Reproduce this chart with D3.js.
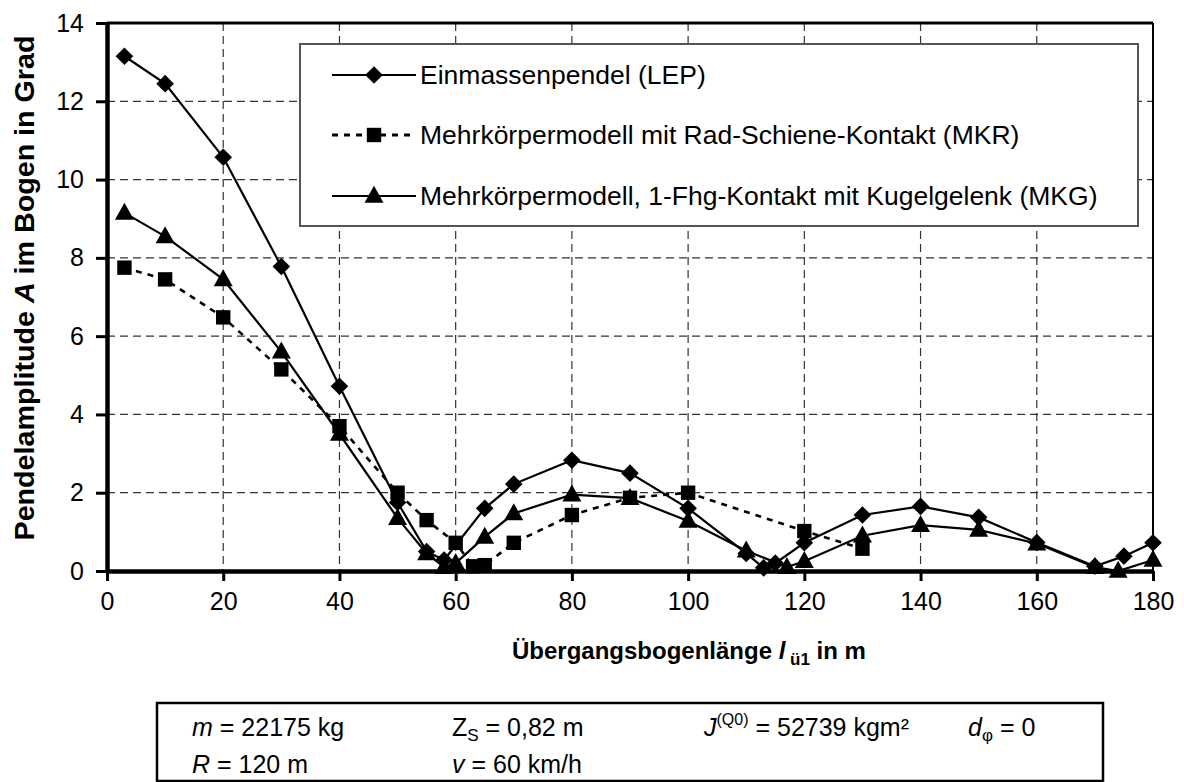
<!DOCTYPE html>
<html>
<head>
<meta charset="utf-8">
<script src="https://cdn.jsdelivr.net/npm/d3@7"></script>
<style>
  html, body { margin: 0; padding: 0; background: #fff; }
  svg { display: block; font-family: "Liberation Sans", Arial, sans-serif; }
</style>
</head>
<body>
<svg id="chart" width="1184" height="782"></svg>
<script>
// Transition curve length l_ü1 [m] and pendulum amplitude A [deg] per model
const lepLength = [3, 10, 20, 30, 40, 50, 55, 58, 65, 70, 80, 90, 100, 110, 113, 115, 120, 130, 140, 150, 160, 170, 175, 180];
const lepAmp    = [13.15, 12.45, 10.57, 7.78, 4.72, 1.75, 0.5, 0.28, 1.6, 2.22, 2.83, 2.5, 1.6, 0.45, 0.08, 0.2, 0.72, 1.43, 1.65, 1.37, 0.73, 0.12, 0.38, 0.72];

const mkrLength = [3, 10, 20, 30, 40, 50, 55, 60, 63, 65, 70, 80, 90, 100, 120, 130];
const mkrAmp    = [7.75, 7.45, 6.48, 5.15, 3.7, 2.0, 1.3, 0.72, 0.12, 0.15, 0.72, 1.43, 1.87, 2.0, 1.02, 0.57];

const mkgLength = [3, 10, 20, 30, 40, 50, 55, 58, 60, 65, 70, 80, 90, 100, 110, 117, 120, 130, 140, 150, 160, 170, 174, 180];
const mkgAmp    = [9.15, 8.55, 7.45, 5.6, 3.5, 1.35, 0.45, 0.1, 0.2, 0.87, 1.47, 1.95, 1.86, 1.28, 0.52, 0.1, 0.25, 0.9, 1.17, 1.05, 0.7, 0.1, 0.0, 0.28];

const xTicks = [0, 20, 40, 60, 80, 100, 120, 140, 160, 180];
const yTicks = [0, 2, 4, 6, 8, 10, 12, 14];

const seriesNames = [
  "Einmassenpendel (LEP)",
  "Mehrkörpermodell mit Rad-Schiene-Kontakt (MKR)",
  "Mehrkörpermodell, 1-Fhg-Kontakt mit Kugelgelenk (MKG)"
];

const series = [
  { name: seriesNames[0], x: lepLength, y: lepAmp, marker: "diamond", dash: null },
  { name: seriesNames[1], x: mkrLength, y: mkrAmp, marker: "square", dash: "6,6" },
  { name: seriesNames[2], x: mkgLength, y: mkgAmp, marker: "triangle", dash: null }
];

const svg = d3.select("#chart");
const plot = { left: 107, right: 1153, top: 23, bottom: 571 };

const x = d3.scaleLinear().domain([0, 180]).range([plot.left, plot.right]);
const y = d3.scaleLinear().domain([0, 14]).range([plot.bottom, plot.top]);

// marker shapes
function markerPath(kind) {
  if (kind === "diamond") { const r = 8.8; return `M0,${-r}L${r},0L0,${r}L${-r},0Z`; }
  if (kind === "square") { const s = 7.2; return `M${-s},${-s}H${s}V${s}H${-s}Z`; }
  const w = 9.5, h = 17; // triangle
  return `M0,${-h * 0.6}L${w},${h * 0.4}L${-w},${h * 0.4}Z`;
}

// grid
const grid = svg.append("g");
grid.selectAll("line.v").data(xTicks.filter(d => d > 0 && d < 180)).join("line")
  .attr("x1", d => x(d)).attr("x2", d => x(d))
  .attr("y1", plot.top).attr("y2", plot.bottom)
  .attr("stroke", "#333").attr("stroke-width", 1.2).attr("stroke-dasharray", "8,5");
grid.selectAll("line.h").data(yTicks.filter(d => d > 0 && d < 14)).join("line")
  .attr("x1", plot.left).attr("x2", plot.right)
  .attr("y1", d => y(d)).attr("y2", d => y(d))
  .attr("stroke", "#333").attr("stroke-width", 1.2).attr("stroke-dasharray", "8,5");

// plot frame
svg.append("line").attr("x1", plot.left).attr("x2", plot.right).attr("y1", plot.top).attr("y2", plot.top)
  .attr("stroke", "#000").attr("stroke-width", 3);
svg.append("line").attr("x1", plot.right).attr("x2", plot.right).attr("y1", plot.top).attr("y2", plot.bottom)
  .attr("stroke", "#000").attr("stroke-width", 2);

// axes
const xAxis = svg.append("g").attr("transform", `translate(0,${plot.bottom})`)
  .call(d3.axisBottom(x).tickValues(xTicks).tickSize(10).tickPadding(12).tickSizeOuter(0));
const yAxis = svg.append("g").attr("transform", `translate(${plot.left},0)`)
  .call(d3.axisLeft(y).tickValues(yTicks).tickSize(11).tickPadding(12).tickSizeOuter(0));
[xAxis, yAxis].forEach(a => {
  a.select(".domain").attr("stroke", "#000").attr("stroke-width", 4.5);
  a.selectAll(".tick line").attr("stroke", "#000").attr("stroke-width", 3);
  a.selectAll(".tick text").attr("font-size", 25).attr("fill", "#000")
    .attr("font-family", "'Liberation Sans', Arial, sans-serif");
});
xAxis.selectAll(".tick text").attr("dy", "0.66em");

// data lines and markers
const lineGen = d3.line().x(d => x(d[0])).y(d => y(d[1]));
series.forEach(s => {
  const pts = s.x.map((v, i) => [v, s.y[i]]);
  svg.append("path").datum(pts).attr("d", lineGen)
    .attr("fill", "none").attr("stroke", "#000").attr("stroke-width", s.dash ? 2.6 : 2.2)
    .attr("stroke-dasharray", s.dash);
  svg.append("g").selectAll("path").data(pts).join("path")
    .attr("d", markerPath(s.marker))
    .attr("transform", d => `translate(${x(d[0])},${y(d[1])})`)
    .attr("fill", "#000");
});

// legend
const legend = svg.append("g");
legend.append("rect").attr("x", 300).attr("y", 44).attr("width", 838).attr("height", 182)
  .attr("fill", "#fff").attr("stroke", "#555").attr("stroke-width", 2);
const rowY = [75, 135, 196];
series.forEach((s, i) => {
  const g = legend.append("g").attr("transform", `translate(0,${rowY[i]})`);
  g.append("line").attr("x1", 332).attr("x2", 416).attr("y1", 0).attr("y2", 0)
    .attr("stroke", "#000").attr("stroke-width", s.dash ? 2.8 : 2.2).attr("stroke-dasharray", s.dash);
  g.append("path").attr("d", markerPath(s.marker)).attr("transform", "translate(374,0)").attr("fill", "#000");
  g.append("text").attr("x", 420).attr("y", 0).attr("dy", "0.35em").attr("font-size", 26.5).text(s.name);
});

// axis titles
const yTitle = svg.append("text").attr("transform", "translate(25,288) rotate(-90)")
  .attr("text-anchor", "middle").attr("dy", "0.35em").attr("font-size", 27).attr("font-weight", "bold")
  .attr("textLength", 505).attr("lengthAdjust", "spacingAndGlyphs");
yTitle.append("tspan").text("Pendelamplitude ");
yTitle.append("tspan").attr("font-style", "italic").text("A");
yTitle.append("tspan").text("  im Bogen in Grad");

const xTitle = svg.append("text").attr("x", 512).attr("y", 659)
  .attr("font-size", 24).attr("font-weight", "bold");
xTitle.append("tspan").text("Übergangsbogenlänge ");
xTitle.append("tspan").attr("font-style", "italic").text("l");
xTitle.append("tspan").attr("font-size", 17).attr("dy", 6).text(" ü1");
xTitle.append("tspan").attr("dy", -6).text(" in m");

// parameter box
const box = svg.append("g");
box.append("rect").attr("x", 157).attr("y", 703).attr("width", 946).attr("height", 78)
  .attr("fill", "#fff").attr("stroke", "#000").attr("stroke-width", 2.5);

function param(xp, yp, parts) {
  const t = box.append("text").attr("x", xp).attr("y", yp).attr("font-size", 25);
  parts.forEach(p => {
    const ts = t.append("tspan").text(p.t);
    if (p.i) ts.attr("font-style", "italic");
    if (p.fs) ts.attr("font-size", p.fs);
    if (p.dy) ts.attr("dy", p.dy);
  });
}
param(192, 736, [{ t: "m", i: true }, { t: " = 22175 kg" }]);
param(452, 736, [{ t: "Z" }, { t: "S", fs: 17, dy: 5 }, { t: " = 0,82 m", dy: -5 }]);
param(704, 736, [{ t: "J", i: true }, { t: "(Q0)", fs: 16, dy: -11 }, { t: " = 52739 kgm²", dy: 11 }]);
param(968, 736, [{ t: "d", i: true }, { t: "φ", fs: 17, dy: 5 }, { t: " = 0", dy: -5 }]);
param(192, 773, [{ t: "R", i: true }, { t: " = 120 m" }]);
param(452, 773, [{ t: "v", i: true }, { t: " = 60 km/h" }]);
</script>
</body>
</html>
